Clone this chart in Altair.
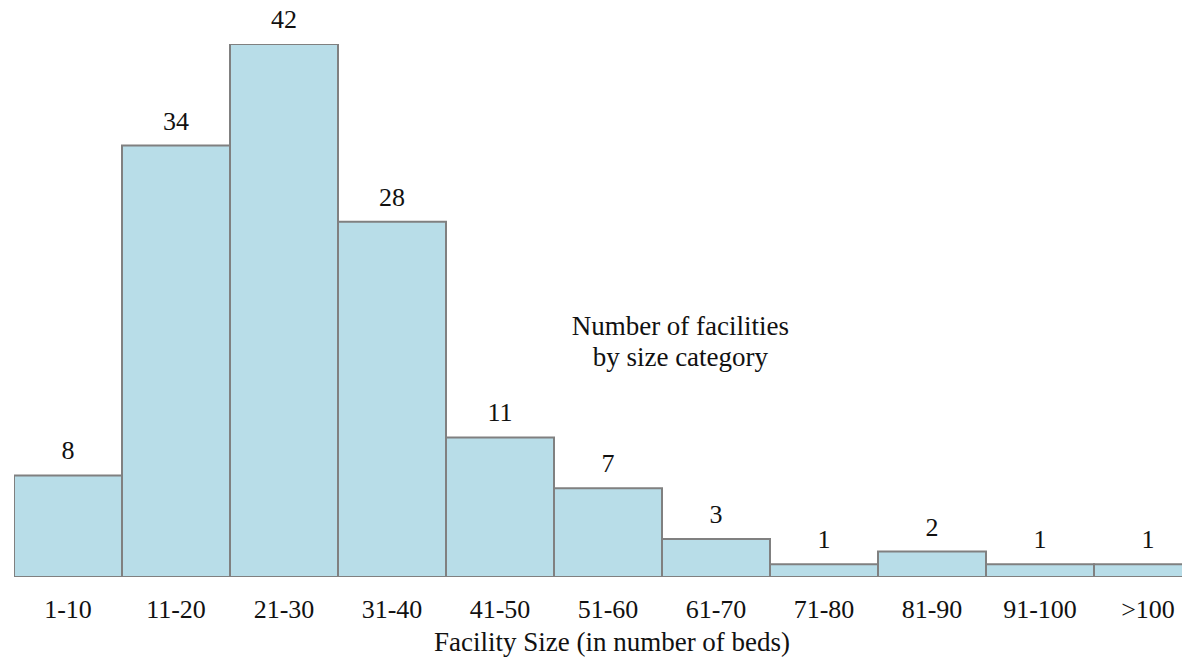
import altair as alt
import pandas as pd

categories = ["1-10", "11-20", "21-30", "31-40", "41-50", "51-60", "61-70", "71-80", "81-90", "91-100", ">100"]
counts = [8, 34, 42, 28, 11, 7, 3, 1, 2, 1, 1]
annotation = ["Number of facilities", "by size category"]
x_title = "Facility Size (in  number of beds)"

df = pd.DataFrame({
    "cat": categories,
    "count": counts,
    "start": list(range(len(categories))),
})
df["end"] = df["start"] + 1
df["mid"] = df["start"] + 0.5

W = 1168
H = 533
XMAX = W / 108.0
FONT = "Liberation Serif"

xs = alt.Scale(domain=[0, XMAX], nice=False, zero=False)
ys = alt.Scale(domain=[0, 42], nice=False)

base = alt.Chart(df)

axis_line = alt.Chart(pd.DataFrame({"a": [0], "b": [XMAX], "y": [0]})).mark_rule(
    color="#d4d4d4", strokeWidth=3, clip=True
).encode(
    x=alt.X("a:Q", scale=xs, axis=None),
    x2="b:Q",
    y=alt.Y("y:Q", scale=ys, axis=None),
)

bars = base.mark_rect(fill="#b8dde8", stroke="#808080", strokeWidth=2, clip=True).encode(
    x=alt.X("start:Q", scale=xs, axis=None),
    x2="end:Q",
    y=alt.Y("count:Q", scale=ys, axis=None),
    y2=alt.datum(0),
)

values = base.mark_text(font=FONT, fontSize=26, color="#111111", baseline="alphabetic", dy=-16).encode(
    x=alt.X("mid:Q", scale=xs),
    y=alt.Y("count:Q", scale=ys),
    text="count:Q",
)

cat_labels = base.mark_text(font=FONT, fontSize=26, color="#111111", baseline="middle", dy=33).encode(
    x=alt.X("mid:Q", scale=xs),
    y=alt.datum(0),
    text="cat:N",
)

title_text = alt.Chart(pd.DataFrame({"x": [5.5], "t": [x_title]})).mark_text(
    font=FONT, fontSize=27, color="#111111", baseline="alphabetic", dy=74, dx=4
).encode(
    x=alt.X("x:Q", scale=xs),
    y=alt.datum(0),
    text="t:N",
)

note = alt.Chart(pd.DataFrame({"x": [6.17], "y": [19.7], "t": [annotation]})).mark_text(
    font=FONT, fontSize=27, color="#111111", baseline="middle", lineHeight=31
).encode(
    x=alt.X("x:Q", scale=xs),
    y=alt.Y("y:Q", scale=ys),
    text="t",
)

chart = alt.layer(axis_line, bars, values, cat_labels, title_text, note).properties(
    width=W,
    height=H,
    padding={"left": 6, "top": 36, "right": 0, "bottom": 80},
    autosize=alt.AutoSizeParams(type="none"),
    background="white",
).configure_view(stroke=None)

chart.save("out.html", embed_options={"renderer": "svg", "actions": False})
